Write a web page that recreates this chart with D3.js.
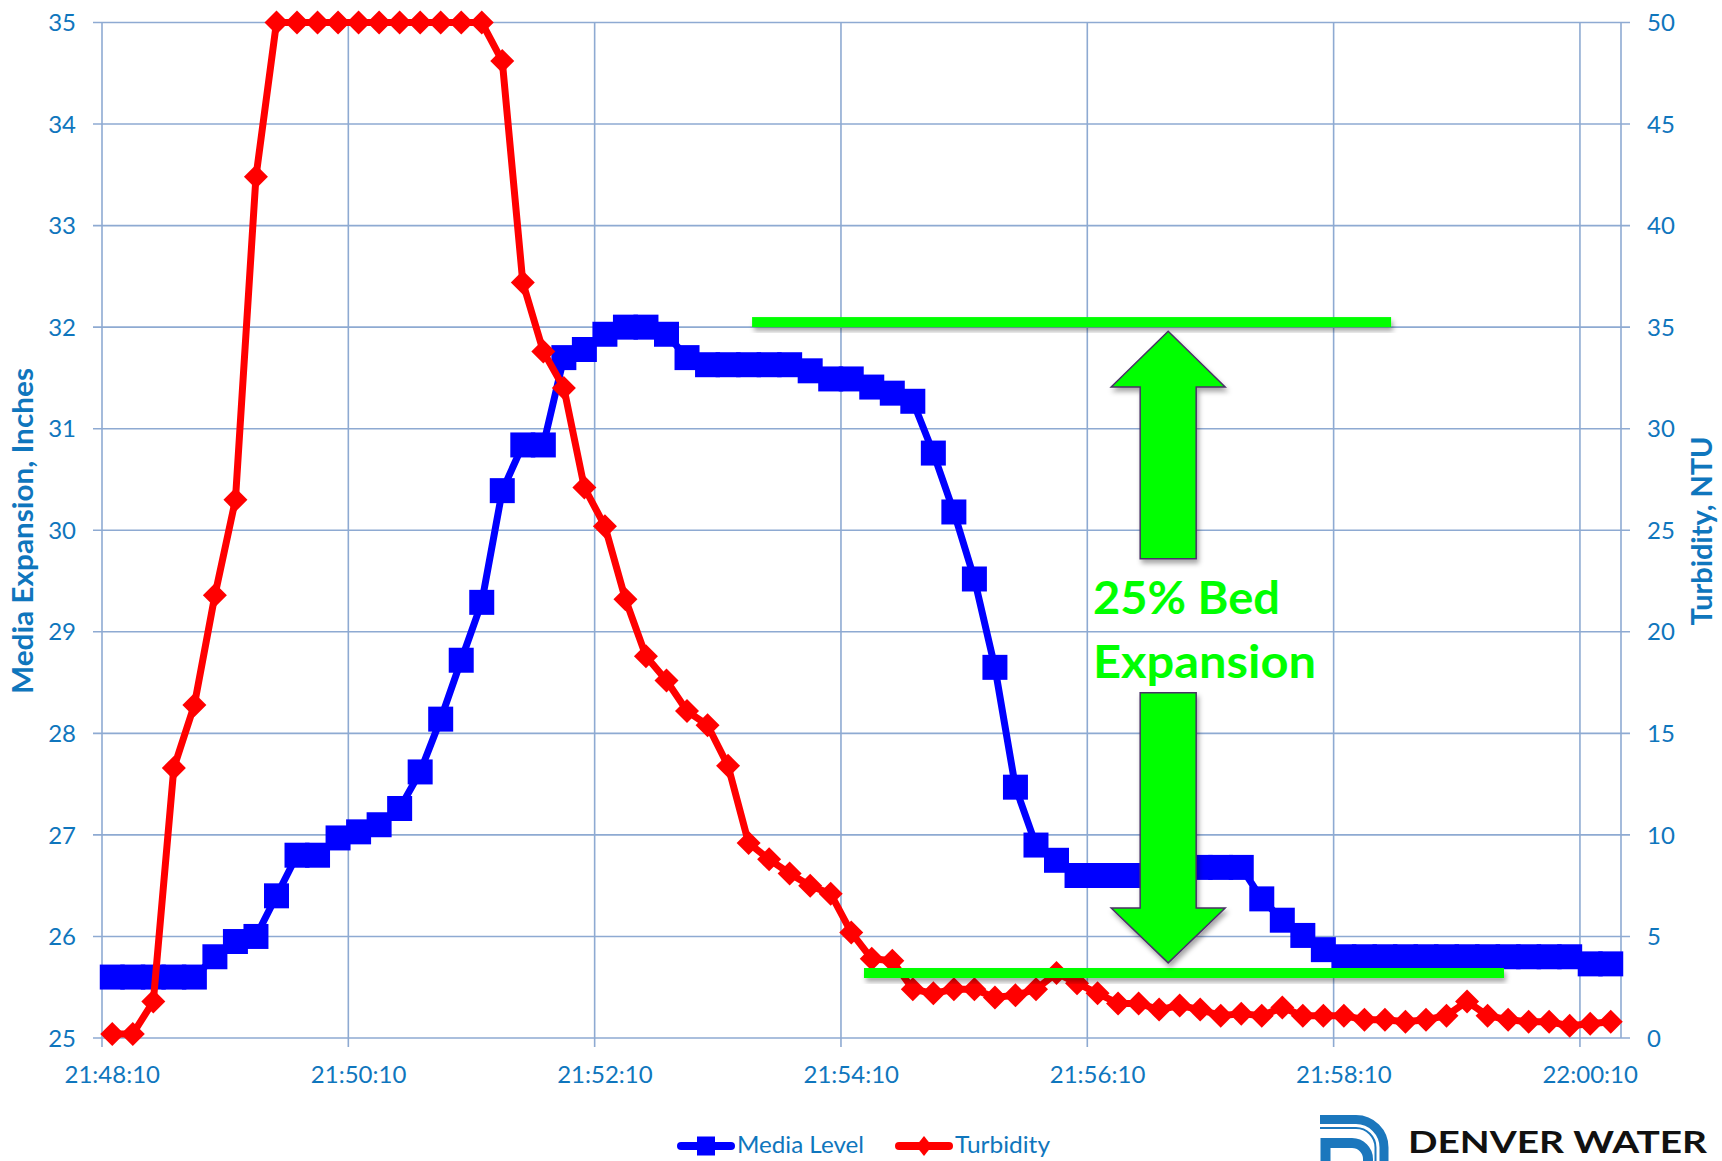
<!DOCTYPE html>
<html>
<head>
<meta charset="utf-8">
<script src="https://cdn.jsdelivr.net/npm/d3@7"></script>
<style>
  html, body { margin: 0; padding: 0; background: #ffffff; }
  svg { display: block; }
</style>
</head>
<body>
<svg id="chart" width="1722" height="1161"></svg>
<script>
// ---------------- DATA ----------------
const categories = [
  "21:48:10","21:48:20","21:48:30","21:48:40","21:48:50","21:49:00",
  "21:49:10","21:49:20","21:49:30","21:49:40","21:49:50","21:50:00",
  "21:50:10","21:50:20","21:50:30","21:50:40","21:50:50","21:51:00",
  "21:51:10","21:51:20","21:51:30","21:51:40","21:51:50","21:52:00",
  "21:52:10","21:52:20","21:52:30","21:52:40","21:52:50","21:53:00",
  "21:53:10","21:53:20","21:53:30","21:53:40","21:53:50","21:54:00",
  "21:54:10","21:54:20","21:54:30","21:54:40","21:54:50","21:55:00",
  "21:55:10","21:55:20","21:55:30","21:55:40","21:55:50","21:56:00",
  "21:56:10","21:56:20","21:56:30","21:56:40","21:56:50","21:57:00",
  "21:57:10","21:57:20","21:57:30","21:57:40","21:57:50","21:58:00",
  "21:58:10","21:58:20","21:58:30","21:58:40","21:58:50","21:59:00",
  "21:59:10","21:59:20","21:59:30","21:59:40","21:59:50","22:00:00",
  "22:00:10","22:00:20"
];

const mediaLevel = [
  25.6, 25.6, 25.6, 25.6, 25.6, 25.8, 25.95, 26.0, 26.4, 26.8,
  26.8, 26.97, 27.03, 27.1, 27.26, 27.62, 28.14, 28.72, 29.29, 30.39,
  30.84, 30.84, 31.7, 31.78, 31.93, 32.0, 32.0, 31.93, 31.7, 31.63,
  31.63, 31.63, 31.63, 31.63, 31.57, 31.49, 31.49, 31.41, 31.35, 31.27,
  30.76, 30.18, 29.52, 28.65, 27.47, 26.9, 26.75, 26.6, 26.6, 26.6,
  26.6, 26.6, 26.68, 26.68, 26.68, 26.68, 26.37, 26.16, 26.01, 25.87,
  25.8, 25.8, 25.8, 25.8, 25.8, 25.8, 25.8, 25.8, 25.8, 25.8,
  25.8, 25.8, 25.73, 25.73
];

const turbidity = [
  0.2, 0.2, 1.8, 13.3, 16.4, 21.8, 26.5, 42.4, 50, 50,
  50, 50, 50, 50, 50, 50, 50, 50, 50, 48.1,
  37.2, 33.8, 32.0, 27.1, 25.2, 21.6, 18.8, 17.6, 16.1, 15.4,
  13.4, 9.6, 8.8, 8.1, 7.5, 7.1, 5.2, 3.9, 3.8, 2.4,
  2.2, 2.4, 2.4, 2.0, 2.1, 2.4, 3.2, 2.7, 2.2, 1.7,
  1.7, 1.4, 1.6, 1.4, 1.1, 1.2, 1.1, 1.5, 1.1, 1.1,
  1.1, 0.9, 0.9, 0.8, 0.9, 1.1, 1.8, 1.1, 0.9, 0.8,
  0.8, 0.6, 0.7, 0.8
];

const xTickLabels = ["21:48:10","21:50:10","21:52:10","21:54:10","21:56:10","21:58:10","22:00:10"];
const leftTicks  = [25, 26, 27, 28, 29, 30, 31, 32, 33, 34, 35];
const rightTicks = [0, 5, 10, 15, 20, 25, 30, 35, 40, 45, 50];

const seriesNames = ["Media Level", "Turbidity"];
const leftTitle = "Media Expansion, Inches";
const rightTitle = "Turbidity, NTU";
const annotationText = ["25% Bed", "Expansion"];
const logoText = "DENVER WATER";

// annotation lines, in (category index, inches)
const topBand    = { from: 31.17, to: 62.3, level: 32.05 };
const bottomBand = { from: 36.62, to: 67.8, level: 25.64 };
// arrows: centre in category index, levels in inches
const upArrow   = { at: 51.44, tip: 31.96, headBase: 31.41, tail: 29.72 };
const downArrow = { at: 51.44, tail: 28.40, headBase: 26.28, tip: 25.74 };

// ---------------- LAYOUT ----------------
const W = 1722, H = 1161;
const plot = { left: 102, right: 1621, top: 22.5, bottom: 1038 };

const labelColor = "#0f76bd";
const gridColor  = "#8eaad2";
const font = "Lato, 'Open Sans', sans-serif";

const svg = d3.select("#chart");
svg.append("rect").attr("width", W).attr("height", H).attr("fill", "#fff");

const defs = svg.append("defs");
const f = defs.append("filter").attr("id", "shadow")
  .attr("x", "-20%").attr("y", "-50%").attr("width", "140%").attr("height", "200%");
f.append("feDropShadow").attr("dx", 2).attr("dy", 4).attr("stdDeviation", 2.5)
  .attr("flood-color", "#000").attr("flood-opacity", 0.35);

const x = d3.scaleBand().domain(categories).range([plot.left, plot.right]).padding(0);
const bw = x.bandwidth();
const xc = c => x(c) + bw / 2;
const xIdx = d3.scaleLinear().domain([-0.5, categories.length - 0.5]).range([plot.left, plot.right]);
const yL = d3.scaleLinear().domain([25, 35]).range([plot.bottom, plot.top]);
const yR = d3.scaleLinear().domain([0, 50]).range([plot.bottom, plot.top]);

// ---------------- GRID ----------------
const grid = svg.append("g");
grid.selectAll("line.h").data(leftTicks).join("line")
  .attr("x1", plot.left - 9).attr("x2", plot.right + 9)
  .attr("y1", d => yL(d)).attr("y2", d => yL(d))
  .attr("stroke", gridColor).attr("stroke-width", 1.6);
const vIdx = xTickLabels.map(l => categories.indexOf(l));
grid.selectAll("line.v").data(vIdx).join("line")
  .attr("x1", i => x(categories[i])).attr("x2", i => x(categories[i]))
  .attr("y1", plot.top).attr("y2", plot.bottom + 9)
  .attr("stroke", gridColor).attr("stroke-width", 1.6);
grid.append("line")
  .attr("x1", plot.right).attr("x2", plot.right)
  .attr("y1", plot.top).attr("y2", plot.bottom)
  .attr("stroke", gridColor).attr("stroke-width", 1.6);

// ---------------- AXIS LABELS ----------------
svg.append("g").selectAll("text").data(leftTicks).join("text")
  .attr("x", 76).attr("y", d => yL(d)).attr("dy", "0.36em")
  .attr("text-anchor", "end").attr("font-family", font).attr("font-size", 24)
  .attr("fill", labelColor).text(d => d);

svg.append("g").selectAll("text").data(rightTicks).join("text")
  .attr("x", 1647).attr("y", d => yR(d)).attr("dy", "0.36em")
  .attr("text-anchor", "start").attr("font-family", font).attr("font-size", 24)
  .attr("fill", labelColor).text(d => d);

svg.append("g").selectAll("text").data(xTickLabels).join("text")
  .attr("x", d => xc(d)).attr("y", 1074).attr("dy", "0.36em")
  .attr("text-anchor", "middle").attr("font-family", font).attr("font-size", 24)
  .attr("fill", labelColor).text(d => d);

svg.append("text")
  .attr("transform", "translate(33,531) rotate(-90)")
  .attr("text-anchor", "middle").attr("font-family", font).attr("font-weight", 700)
  .attr("font-size", 29).attr("fill", labelColor)
  .attr("textLength", 326).attr("lengthAdjust", "spacingAndGlyphs")
  .text(leftTitle);

svg.append("text")
  .attr("transform", "translate(1712,531) rotate(-90)")
  .attr("text-anchor", "middle").attr("font-family", font).attr("font-weight", 700)
  .attr("font-size", 29).attr("fill", labelColor)
  .attr("textLength", 189).attr("lengthAdjust", "spacingAndGlyphs")
  .text(rightTitle);

// ---------------- SERIES ----------------
const blue = "#0000ff", red = "#ff0000", green = "#00ff00";

const mediaData = categories.map((c, i) => ({ c, v: mediaLevel[i] }));
const turbData  = categories.map((c, i) => ({ c, v: turbidity[i] }));

svg.append("path").datum(mediaData)
  .attr("fill", "none").attr("stroke", blue).attr("stroke-width", 7)
  .attr("stroke-linejoin", "round")
  .attr("d", d3.line().x(d => xc(d.c)).y(d => yL(d.v)));

svg.append("g").selectAll("path").data(mediaData).join("path")
  .attr("transform", d => `translate(${xc(d.c)},${yL(d.v)})`)
  .attr("d", d3.symbol(d3.symbolSquare, 625)())
  .attr("fill", blue);

svg.append("path").datum(turbData)
  .attr("fill", "none").attr("stroke", red).attr("stroke-width", 7)
  .attr("stroke-linejoin", "round")
  .attr("d", d3.line().x(d => xc(d.c)).y(d => yR(d.v)));

const diamond = (w, h) => `M0,${-h}L${w},0L0,${h}L${-w},0Z`;
svg.append("g").selectAll("path").data(turbData).join("path")
  .attr("transform", d => `translate(${xc(d.c)},${yR(d.v)})`)
  .attr("d", diamond(12, 12))
  .attr("fill", red);

// ---------------- ANNOTATIONS ----------------
const ann = svg.append("g");
[topBand, bottomBand].forEach(b => {
  ann.append("rect")
    .attr("x", xIdx(b.from)).attr("width", xIdx(b.to) - xIdx(b.from))
    .attr("y", yL(b.level) - 5).attr("height", 10)
    .attr("fill", green).attr("filter", "url(#shadow)");
});

function arrowPath(cx, tipY, baseY, tailY, headHalf, shaftHalf) {
  return `M${cx},${tipY} L${cx + headHalf},${baseY} L${cx + shaftHalf},${baseY} ` +
         `L${cx + shaftHalf},${tailY} L${cx - shaftHalf},${tailY} L${cx - shaftHalf},${baseY} ` +
         `L${cx - headHalf},${baseY} Z`;
}
[upArrow, downArrow].forEach(a => {
  ann.append("path")
    .attr("d", arrowPath(xIdx(a.at), yL(a.tip), yL(a.headBase), yL(a.tail), 57, 28))
    .attr("fill", green).attr("stroke", "#4a3266").attr("stroke-width", 1.5)
    .attr("stroke-linejoin", "miter")
    .attr("filter", "url(#shadow)");
});

ann.append("text").attr("x", 1093).attr("y", 614)
  .attr("font-family", font).attr("font-weight", 700).attr("font-size", 46)
  .attr("fill", green).attr("textLength", 187).attr("lengthAdjust", "spacingAndGlyphs")
  .text(annotationText[0]);
ann.append("text").attr("x", 1093).attr("y", 678)
  .attr("font-family", font).attr("font-weight", 700).attr("font-size", 46)
  .attr("fill", green).attr("textLength", 223).attr("lengthAdjust", "spacingAndGlyphs")
  .text(annotationText[1]);

// ---------------- LEGEND ----------------
const leg = svg.append("g");
const ly = 1146;
leg.append("line").attr("x1", 681).attr("x2", 731).attr("y1", ly).attr("y2", ly)
  .attr("stroke", blue).attr("stroke-width", 8).attr("stroke-linecap", "round");
leg.append("rect").attr("x", 697).attr("y", ly - 9.5).attr("width", 18).attr("height", 19).attr("fill", blue);
leg.append("text").attr("x", 737).attr("y", 1153).attr("font-family", font).attr("font-size", 23)
  .attr("fill", labelColor).attr("textLength", 127).attr("lengthAdjust", "spacingAndGlyphs")
  .text(seriesNames[0]);

leg.append("line").attr("x1", 899).attr("x2", 949).attr("y1", ly).attr("y2", ly)
  .attr("stroke", red).attr("stroke-width", 8).attr("stroke-linecap", "round");
leg.append("path").attr("transform", `translate(924,${ly})`).attr("d", diamond(8, 10)).attr("fill", red);
leg.append("text").attr("x", 955).attr("y", 1153).attr("font-family", font).attr("font-size", 23)
  .attr("fill", labelColor).attr("textLength", 95).attr("lengthAdjust", "spacingAndGlyphs")
  .text(seriesNames[1]);

// ---------------- LOGO ----------------
const logo = svg.append("g");
const logoBlue = "#1b77bd";
logo.append("path")
  .attr("d", "M1320,1119.5 H1356 A28,28 0 0 1 1384,1147.5 V1175")
  .attr("fill", "none").attr("stroke", logoBlue).attr("stroke-width", 9);
logo.append("path")
  .attr("d", "M1320,1128 H1356 A19.5,19.5 0 0 1 1375.5,1147.5 V1175")
  .attr("fill", "none").attr("stroke", logoBlue).attr("stroke-width", 2);
logo.append("path")
  .attr("d", "M1325.5,1175 V1143 H1352 A16,16 0 0 1 1368,1159 V1175")
  .attr("fill", "none").attr("stroke", logoBlue).attr("stroke-width", 10);
logo.append("text").attr("x", 1408).attr("y", 1153)
  .attr("font-family", font).attr("font-weight", 700).attr("font-size", 30)
  .attr("fill", "#111").attr("textLength", 299).attr("lengthAdjust", "spacingAndGlyphs")
  .text(logoText);
</script>
</body>
</html>
